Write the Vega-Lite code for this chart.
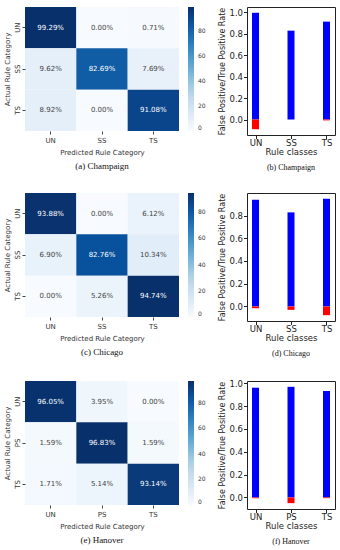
{
  "$schema": "https://vega.github.io/schema/vega-lite/v6.json",
  "padding": {"left": 3, "top": 6, "right": 3, "bottom": 0},
  "autosize": {"type": "pad"},
  "background": "white",
  "spacing": 20,
  "datasets": {
    "heat": [
      {"city": "Champaign", "actual": "UN", "predicted": "UN", "value": 99.29},
      {"city": "Champaign", "actual": "UN", "predicted": "SS", "value": 0.00},
      {"city": "Champaign", "actual": "UN", "predicted": "TS", "value": 0.71},
      {"city": "Champaign", "actual": "SS", "predicted": "UN", "value": 9.62},
      {"city": "Champaign", "actual": "SS", "predicted": "SS", "value": 82.69},
      {"city": "Champaign", "actual": "SS", "predicted": "TS", "value": 7.69},
      {"city": "Champaign", "actual": "TS", "predicted": "UN", "value": 8.92},
      {"city": "Champaign", "actual": "TS", "predicted": "SS", "value": 0.00},
      {"city": "Champaign", "actual": "TS", "predicted": "TS", "value": 91.08},
      {"city": "Chicago", "actual": "UN", "predicted": "UN", "value": 93.88},
      {"city": "Chicago", "actual": "UN", "predicted": "SS", "value": 0.00},
      {"city": "Chicago", "actual": "UN", "predicted": "TS", "value": 6.12},
      {"city": "Chicago", "actual": "SS", "predicted": "UN", "value": 6.90},
      {"city": "Chicago", "actual": "SS", "predicted": "SS", "value": 82.76},
      {"city": "Chicago", "actual": "SS", "predicted": "TS", "value": 10.34},
      {"city": "Chicago", "actual": "TS", "predicted": "UN", "value": 0.00},
      {"city": "Chicago", "actual": "TS", "predicted": "SS", "value": 5.26},
      {"city": "Chicago", "actual": "TS", "predicted": "TS", "value": 94.74},
      {"city": "Hanover", "actual": "UN", "predicted": "UN", "value": 96.05},
      {"city": "Hanover", "actual": "UN", "predicted": "PS", "value": 3.95},
      {"city": "Hanover", "actual": "UN", "predicted": "TS", "value": 0.00},
      {"city": "Hanover", "actual": "PS", "predicted": "UN", "value": 1.59},
      {"city": "Hanover", "actual": "PS", "predicted": "PS", "value": 96.83},
      {"city": "Hanover", "actual": "PS", "predicted": "TS", "value": 1.59},
      {"city": "Hanover", "actual": "TS", "predicted": "UN", "value": 1.71},
      {"city": "Hanover", "actual": "TS", "predicted": "PS", "value": 5.14},
      {"city": "Hanover", "actual": "TS", "predicted": "TS", "value": 93.14}
    ],
    "rates": [
      {"city": "Champaign", "class": "UN", "series": "TP", "value": 0.9929},
      {"city": "Champaign", "class": "UN", "series": "FP", "value": -0.09},
      {"city": "Champaign", "class": "SS", "series": "TP", "value": 0.8269},
      {"city": "Champaign", "class": "SS", "series": "FP", "value": 0.0},
      {"city": "Champaign", "class": "TS", "series": "TP", "value": 0.9108},
      {"city": "Champaign", "class": "TS", "series": "FP", "value": -0.008},
      {"city": "Chicago", "class": "UN", "series": "TP", "value": 0.9388},
      {"city": "Chicago", "class": "UN", "series": "FP", "value": -0.015},
      {"city": "Chicago", "class": "SS", "series": "TP", "value": 0.8276},
      {"city": "Chicago", "class": "SS", "series": "FP", "value": -0.03},
      {"city": "Chicago", "class": "TS", "series": "TP", "value": 0.9474},
      {"city": "Chicago", "class": "TS", "series": "FP", "value": -0.077},
      {"city": "Hanover", "class": "UN", "series": "TP", "value": 0.9605},
      {"city": "Hanover", "class": "UN", "series": "FP", "value": -0.006},
      {"city": "Hanover", "class": "PS", "series": "TP", "value": 0.9683},
      {"city": "Hanover", "class": "PS", "series": "FP", "value": -0.05},
      {"city": "Hanover", "class": "TS", "series": "TP", "value": 0.9314},
      {"city": "Hanover", "class": "TS", "series": "FP", "value": -0.006}
    ]
  },
  "config": {
    "font": "DejaVu Sans",
    "view": {"stroke": null},
    "title": {"font": "Liberation Serif", "fontWeight": "normal", "color": "#111"}
  },
  "vconcat": [
    {
      "spacing": 12,
      "hconcat": [
        {
          "width": 154, "height": 124,
          "data": {"name": "heat"},
          "transform": [
            {"filter": "datum.city === 'Champaign'"},
            {"calculate": "format(datum.value, '.2f') + '%'", "as": "label"}
          ],
          "title": {"text": "(a) Champaign", "orient": "bottom", "fontSize": 9, "offset": 7, "anchor": "middle"},
          "encoding": {
            "x": {"field": "predicted", "type": "nominal", "sort": ["UN", "SS", "TS"], "scale": {"paddingInner": 0, "paddingOuter": 0},
                  "axis": {"title": "Predicted Rule Category", "labelAngle": 0, "domain": false, "tickSize": 3, "tickColor": "#444", "labelFontSize": 7, "labelColor": "#333", "labelPadding": 2, "titleFontSize": 7, "titleFontWeight": "normal", "titleColor": "#333", "titlePadding": 5}},
            "y": {"field": "actual", "type": "nominal", "sort": ["UN", "SS", "TS"], "scale": {"paddingInner": 0, "paddingOuter": 0},
                  "axis": {"title": "Actual Rule Category", "labelAngle": 270, "domain": false, "tickSize": 3, "tickColor": "#444", "labelFontSize": 7, "labelColor": "#333", "labelPadding": 2, "titleFontSize": 7, "titleFontWeight": "normal", "titleColor": "#333", "titlePadding": 3}}
          },
          "layer": [
            {"mark": {"type": "rect"},
             "encoding": {"color": {"field": "value", "type": "quantitative",
               "scale": {"domain": [0, 12.41, 24.82, 37.23, 49.65, 62.06, 74.47, 86.88, 99.29], "range": ["#f7fbff", "#deebf7", "#c6dbef", "#9ecae1", "#6baed6", "#4292c6", "#2171b5", "#08519c", "#08306b"]},
               "legend": {"title": null, "orient": "right", "direction": "vertical", "gradientLength": 124, "gradientThickness": 6, "values": [0, 20, 40, 60, 80], "labelFontSize": 6, "labelColor": "#333", "offset": 9, "labelOffset": 4, "gradientStrokeWidth": 0}}}},
            {"mark": {"type": "text", "fontSize": 7},
             "encoding": {"text": {"field": "label"}, "color": {"condition": {"test": "datum.value > 50", "value": "#ffffff"}, "value": "#444444"}}}
          ]
        },
        {
          "width": 88, "height": 128,
          "view": {"stroke": "#222"},
          "data": {"name": "rates"},
          "transform": [{"filter": "datum.city === 'Champaign'"}],
          "title": {"text": "(b) Champaign", "orient": "bottom", "fontSize": 8, "offset": 8, "anchor": "middle"},
          "mark": {"type": "bar", "size": 7},
          "encoding": {
            "x": {"field": "class", "type": "nominal", "sort": ["UN", "SS", "TS"], "scale": {"type": "point", "padding": 0.24},
                  "axis": {"title": "Rule classes", "labelAngle": 0, "domain": false, "tickSize": 3.5, "tickColor": "#222", "labelFontSize": 8.5, "labelColor": "#222", "labelPadding": 0, "titleFontSize": 8.5, "titleFontWeight": "normal", "titleColor": "#222", "titlePadding": 0}},
            "y": {"field": "value", "type": "quantitative", "stack": null, "scale": {"domain": [-0.144, 1.047], "nice": false, "zero": false},
                  "axis": {"title": "False Positive/True Positive Rate", "values": [0, 0.2, 0.4, 0.6, 0.8, 1.0], "format": ".1f", "grid": false, "domain": false, "tickSize": 3.5, "tickColor": "#222", "labelFontSize": 8.5, "labelColor": "#222", "labelPadding": 1, "titleFontSize": 8, "titleFontWeight": "normal", "titleColor": "#222", "titlePadding": 2}},
            "y2": {"datum": 0},
            "color": {"field": "series", "type": "nominal", "scale": {"domain": ["TP", "FP"], "range": ["#0000ff", "#ff0000"]}, "legend": null}
          }
        }
      ]
    },
    {
      "spacing": 12,
      "hconcat": [
        {
          "width": 154, "height": 124,
          "data": {"name": "heat"},
          "transform": [
            {"filter": "datum.city === 'Chicago'"},
            {"calculate": "format(datum.value, '.2f') + '%'", "as": "label"}
          ],
          "title": {"text": "(c) Chicago", "orient": "bottom", "fontSize": 9, "offset": 7, "anchor": "middle"},
          "encoding": {
            "x": {"field": "predicted", "type": "nominal", "sort": ["UN", "SS", "TS"], "scale": {"paddingInner": 0, "paddingOuter": 0},
                  "axis": {"title": "Predicted Rule Category", "labelAngle": 0, "domain": false, "tickSize": 3, "tickColor": "#444", "labelFontSize": 7, "labelColor": "#333", "labelPadding": 2, "titleFontSize": 7, "titleFontWeight": "normal", "titleColor": "#333", "titlePadding": 5}},
            "y": {"field": "actual", "type": "nominal", "sort": ["UN", "SS", "TS"], "scale": {"paddingInner": 0, "paddingOuter": 0},
                  "axis": {"title": "Actual Rule Category", "labelAngle": 270, "domain": false, "tickSize": 3, "tickColor": "#444", "labelFontSize": 7, "labelColor": "#333", "labelPadding": 2, "titleFontSize": 7, "titleFontWeight": "normal", "titleColor": "#333", "titlePadding": 3}}
          },
          "layer": [
            {"mark": {"type": "rect"},
             "encoding": {"color": {"field": "value", "type": "quantitative",
               "scale": {"domain": [0, 11.84, 23.69, 35.53, 47.37, 59.21, 71.06, 82.9, 94.74], "range": ["#f7fbff", "#deebf7", "#c6dbef", "#9ecae1", "#6baed6", "#4292c6", "#2171b5", "#08519c", "#08306b"]},
               "legend": {"title": null, "orient": "right", "direction": "vertical", "gradientLength": 124, "gradientThickness": 6, "values": [0, 20, 40, 60, 80], "labelFontSize": 6, "labelColor": "#333", "offset": 9, "labelOffset": 4, "gradientStrokeWidth": 0}}}},
            {"mark": {"type": "text", "fontSize": 7},
             "encoding": {"text": {"field": "label"}, "color": {"condition": {"test": "datum.value > 50", "value": "#ffffff"}, "value": "#444444"}}}
          ]
        },
        {
          "width": 88, "height": 128,
          "view": {"stroke": "#222"},
          "data": {"name": "rates"},
          "transform": [{"filter": "datum.city === 'Chicago'"}],
          "title": {"text": "(d) Chicago", "orient": "bottom", "fontSize": 8, "offset": 8, "anchor": "middle"},
          "mark": {"type": "bar", "size": 7},
          "encoding": {
            "x": {"field": "class", "type": "nominal", "sort": ["UN", "SS", "TS"], "scale": {"type": "point", "padding": 0.24},
                  "axis": {"title": "Rule classes", "labelAngle": 0, "domain": false, "tickSize": 3.5, "tickColor": "#222", "labelFontSize": 8.5, "labelColor": "#222", "labelPadding": 0, "titleFontSize": 8.5, "titleFontWeight": "normal", "titleColor": "#222", "titlePadding": 0}},
            "y": {"field": "value", "type": "quantitative", "stack": null, "scale": {"domain": [-0.128, 0.998], "nice": false, "zero": false},
                  "axis": {"title": "False Positive/True Positive Rate", "values": [0, 0.2, 0.4, 0.6, 0.8], "format": ".1f", "grid": false, "domain": false, "tickSize": 3.5, "tickColor": "#222", "labelFontSize": 8.5, "labelColor": "#222", "labelPadding": 1, "titleFontSize": 8, "titleFontWeight": "normal", "titleColor": "#222", "titlePadding": 2}},
            "y2": {"datum": 0},
            "color": {"field": "series", "type": "nominal", "scale": {"domain": ["TP", "FP"], "range": ["#0000ff", "#ff0000"]}, "legend": null}
          }
        }
      ]
    },
    {
      "spacing": 12,
      "hconcat": [
        {
          "width": 154, "height": 124,
          "data": {"name": "heat"},
          "transform": [
            {"filter": "datum.city === 'Hanover'"},
            {"calculate": "format(datum.value, '.2f') + '%'", "as": "label"}
          ],
          "title": {"text": "(e) Hanover", "orient": "bottom", "fontSize": 9, "offset": 7, "anchor": "middle"},
          "encoding": {
            "x": {"field": "predicted", "type": "nominal", "sort": ["UN", "PS", "TS"], "scale": {"paddingInner": 0, "paddingOuter": 0},
                  "axis": {"title": "Predicted Rule Category", "labelAngle": 0, "domain": false, "tickSize": 3, "tickColor": "#444", "labelFontSize": 7, "labelColor": "#333", "labelPadding": 2, "titleFontSize": 7, "titleFontWeight": "normal", "titleColor": "#333", "titlePadding": 5}},
            "y": {"field": "actual", "type": "nominal", "sort": ["UN", "PS", "TS"], "scale": {"paddingInner": 0, "paddingOuter": 0},
                  "axis": {"title": "Actual Rule Category", "labelAngle": 270, "domain": false, "tickSize": 3, "tickColor": "#444", "labelFontSize": 7, "labelColor": "#333", "labelPadding": 2, "titleFontSize": 7, "titleFontWeight": "normal", "titleColor": "#333", "titlePadding": 3}}
          },
          "layer": [
            {"mark": {"type": "rect"},
             "encoding": {"color": {"field": "value", "type": "quantitative",
               "scale": {"domain": [0, 12.1, 24.21, 36.31, 48.42, 60.52, 72.62, 84.73, 96.83], "range": ["#f7fbff", "#deebf7", "#c6dbef", "#9ecae1", "#6baed6", "#4292c6", "#2171b5", "#08519c", "#08306b"]},
               "legend": {"title": null, "orient": "right", "direction": "vertical", "gradientLength": 124, "gradientThickness": 6, "values": [0, 20, 40, 60, 80], "labelFontSize": 6, "labelColor": "#333", "offset": 9, "labelOffset": 4, "gradientStrokeWidth": 0}}}},
            {"mark": {"type": "text", "fontSize": 7},
             "encoding": {"text": {"field": "label"}, "color": {"condition": {"test": "datum.value > 50", "value": "#ffffff"}, "value": "#444444"}}}
          ]
        },
        {
          "width": 88, "height": 128,
          "view": {"stroke": "#222"},
          "data": {"name": "rates"},
          "transform": [{"filter": "datum.city === 'Hanover'"}],
          "title": {"text": "(f) Hanover", "orient": "bottom", "fontSize": 8, "offset": 8, "anchor": "middle"},
          "mark": {"type": "bar", "size": 7},
          "encoding": {
            "x": {"field": "class", "type": "nominal", "sort": ["UN", "PS", "TS"], "scale": {"type": "point", "padding": 0.24},
                  "axis": {"title": "Rule classes", "labelAngle": 0, "domain": false, "tickSize": 3.5, "tickColor": "#222", "labelFontSize": 8.5, "labelColor": "#222", "labelPadding": 0, "titleFontSize": 8.5, "titleFontWeight": "normal", "titleColor": "#222", "titlePadding": 0}},
            "y": {"field": "value", "type": "quantitative", "stack": null, "scale": {"domain": [-0.101, 1.019], "nice": false, "zero": false},
                  "axis": {"title": "False Positive/True Positive Rate", "values": [0, 0.2, 0.4, 0.6, 0.8, 1.0], "format": ".1f", "grid": false, "domain": false, "tickSize": 3.5, "tickColor": "#222", "labelFontSize": 8.5, "labelColor": "#222", "labelPadding": 1, "titleFontSize": 8, "titleFontWeight": "normal", "titleColor": "#222", "titlePadding": 2}},
            "y2": {"datum": 0},
            "color": {"field": "series", "type": "nominal", "scale": {"domain": ["TP", "FP"], "range": ["#0000ff", "#ff0000"]}, "legend": null}
          }
        }
      ]
    }
  ]
}
